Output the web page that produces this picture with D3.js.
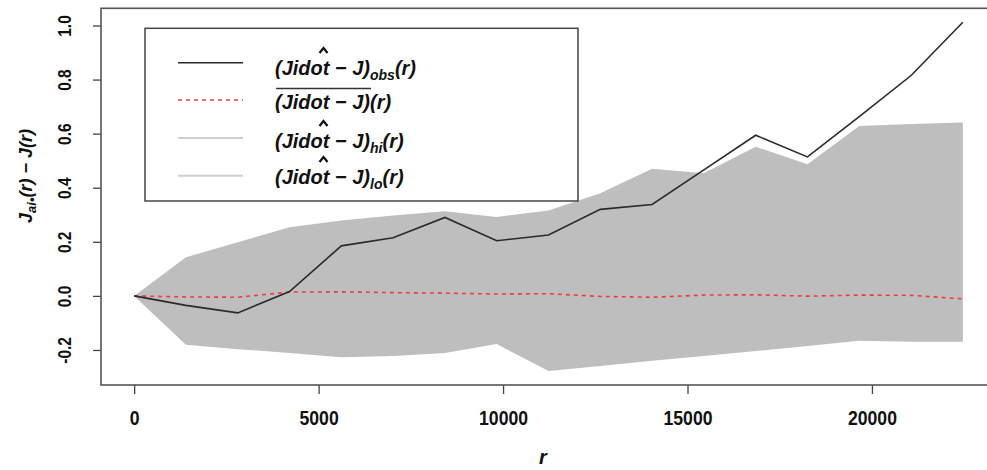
<!DOCTYPE html>
<html>
<head>
<meta charset="utf-8">
<script src="https://cdn.jsdelivr.net/npm/d3@7"></script>
<style>
  body { margin: 0; background: #fff; }
  svg { display: block; }
  .tick text { font-family: 'Liberation Sans', Arial, sans-serif; font-weight: bold; fill: #111; }
  .math { font-family: 'Liberation Sans', Arial, sans-serif; font-weight: bold; font-style: italic; fill: #111; }
</style>
</head>
<body>
<svg width="987" height="470"></svg>
<script>
//envelope data
const rValues = [0, 1404, 2808, 4212, 5616, 7020, 8424, 9828, 11232, 12636, 14040, 15444, 16848, 18252, 19656, 21060, 22464];
const obsValues = [0, -0.035, -0.063, 0.016, 0.185, 0.215, 0.29, 0.204, 0.225, 0.32, 0.338, 0.466, 0.594, 0.514, 0.663, 0.815, 1.012];
const meanValues = [0, -0.004, -0.005, 0.014, 0.015, 0.012, 0.01, 0.007, 0.008, -0.002, -0.005, 0.003, 0.004, -0.001, 0.003, 0.002, -0.011];
const hiValues = [0, 0.143, 0.198, 0.254, 0.279, 0.297, 0.313, 0.292, 0.316, 0.38, 0.47, 0.454, 0.552, 0.487, 0.628, 0.636, 0.641];
const loValues = [0, -0.181, -0.197, -0.211, -0.227, -0.222, -0.211, -0.178, -0.278, -0.259, -0.24, -0.222, -0.204, -0.185, -0.166, -0.17, -0.17];

const xTicks = [0, 5000, 10000, 15000, 20000];
const yTicks = [-0.2, 0, 0.2, 0.4, 0.6, 0.8, 1.0];

const legendSubs = ['obs', '', 'hi', 'lo'];
const legendHats = [true, false, true, true];

const svg = d3.select('svg');
const width = +svg.attr('width');
const height = +svg.attr('height');

//R style axis padding of 4%
const pad = ([a, b]) => [a - 0.04 * (b - a), b + 0.04 * (b - a)];

const render = () => {
    const margin = { top: 8.3, right: -9, bottom: 85, left: 101 };
    const innerWidth = width - margin.left - margin.right;
    const innerHeight = height - margin.top - margin.bottom;

    const data = rValues.map((r, i) => ({
        r, obs: obsValues[i], mean: meanValues[i], hi: hiValues[i], lo: loValues[i]
    }));

    const xScale = d3.scaleLinear()
        .domain(pad(d3.extent(rValues)))
        .range([0, innerWidth]);

    const allY = [...obsValues, ...meanValues, ...hiValues, ...loValues];
    const yScale = d3.scaleLinear()
        .domain(pad(d3.extent(allY)))
        .range([innerHeight, 0]);

    const g = svg.append('g')
        .attr('transform', `translate(${margin.left}, ${margin.top})`);

    //grey envelope
    const area = d3.area()
        .x(d => xScale(d.r))
        .y0(d => yScale(d.lo))
        .y1(d => yScale(d.hi));
    g.append('path').datum(data)
        .attr('d', area)
        .attr('fill', '#bebebe');

    const line = key => d3.line()
        .x(d => xScale(d.r))
        .y(d => yScale(d[key]));

    g.append('path').datum(data)
        .attr('d', line('mean'))
        .attr('fill', 'none')
        .attr('stroke', '#f03c3c')
        .attr('stroke-width', 1.6)
        .attr('stroke-dasharray', '4,4');

    g.append('path').datum(data)
        .attr('d', line('obs'))
        .attr('fill', 'none')
        .attr('stroke', '#2a2a2a')
        .attr('stroke-width', 1.6);

    //axes
    const xAxisG = g.append('g')
        .attr('transform', `translate(0, ${innerHeight})`)
        .call(d3.axisBottom(xScale).tickValues(xTicks).tickSize(9).tickFormat(d3.format('d')));
    xAxisG.select('.domain').remove();
    xAxisG.selectAll('line').attr('stroke', '#444').attr('stroke-width', 1.3);
    xAxisG.selectAll('text')
        .attr('y', 40).attr('dy', 0)
        .attr('transform', 'scale(0.84, 1)')
        .attr('font-size', 21);

    const yAxisG = g.append('g')
        .call(d3.axisLeft(yScale).tickValues(yTicks).tickSize(8).tickFormat(d => d.toFixed(1)));
    yAxisG.select('.domain').remove();
    yAxisG.selectAll('line').attr('stroke', '#444').attr('stroke-width', 1.3);
    yAxisG.selectAll('text')
        .attr('x', 0).attr('y', -30).attr('dy', 0)
        .attr('transform', 'rotate(-90) scale(0.86, 1)')
        .attr('text-anchor', 'middle')
        .attr('font-size', 18);

    //plot box
    g.append('rect')
        .attr('width', innerWidth)
        .attr('height', innerHeight)
        .attr('fill', 'none')
        .attr('stroke', '#555')
        .attr('stroke-width', 1.6);

    //axis labels
    svg.append('text')
        .attr('class', 'math')
        .attr('x', 543).attr('y', 464)
        .attr('text-anchor', 'middle')
        .attr('font-size', 20)
        .text('r');

    const yLab = svg.append('text')
        .attr('class', 'math')
        .attr('transform', 'translate(32, 176) rotate(-90)')
        .attr('text-anchor', 'middle')
        .attr('font-size', 18);
    yLab.append('tspan').text('J');
    yLab.append('tspan').attr('dy', 4).attr('font-size', 13).text('ai•');
    yLab.append('tspan').attr('dy', -4).text('(r) − J(r)');

    //legend
    const legend = svg.append('g');
    legend.append('rect')
        .attr('x', 145).attr('y', 28.3)
        .attr('width', 433).attr('height', 172.7)
        .attr('fill', '#fff')
        .attr('stroke', '#444')
        .attr('stroke-width', 1.5);

    const lineYs = [62.7, 100, 138, 175.7];
    const baseYs = [75, 109, 148, 184];
    const styles = [
        { stroke: '#2a2a2a', dash: null, w: 1.6 },
        { stroke: '#f03c3c', dash: '4,4', w: 1.6 },
        { stroke: '#cfcfcf', dash: null, w: 2 },
        { stroke: '#cfcfcf', dash: null, w: 2 }
    ];

    legendSubs.forEach((sub, i) => {
        legend.append('line')
            .attr('x1', 178).attr('x2', 243)
            .attr('y1', lineYs[i]).attr('y2', lineYs[i])
            .attr('stroke', styles[i].stroke)
            .attr('stroke-width', styles[i].w)
            .attr('stroke-dasharray', styles[i].dash);

        const t = legend.append('text')
            .attr('class', 'math')
            .attr('x', 275).attr('y', baseYs[i])
            .attr('font-size', 20);
        const main = t.append('tspan').text('(Jidot − J)');
        if (sub) {
            t.append('tspan').attr('dy', 5).attr('font-size', 14).text(sub);
            t.append('tspan').attr('dy', -5).text('(r)');
        } else {
            t.append('tspan').text('(r)');
        }
        const w = main.node().getComputedTextLength() || 93;

        if (legendHats[i]) {
            const cx = 275 + w / 2 + 1;
            const b = baseYs[i];
            legend.append('path')
                .attr('d', `M${cx - 4},${b - 22} L${cx},${b - 27} L${cx + 4},${b - 22}`)
                .attr('fill', 'none')
                .attr('stroke', '#111')
                .attr('stroke-width', 2.2);
        } else {
            legend.append('line')
                .attr('x1', 276).attr('x2', 276 + w)
                .attr('y1', baseYs[i] - 20.5).attr('y2', baseYs[i] - 20.5)
                .attr('stroke', '#333')
                .attr('stroke-width', 1.3);
        }
    });
};

render();
</script>
</body>
</html>
